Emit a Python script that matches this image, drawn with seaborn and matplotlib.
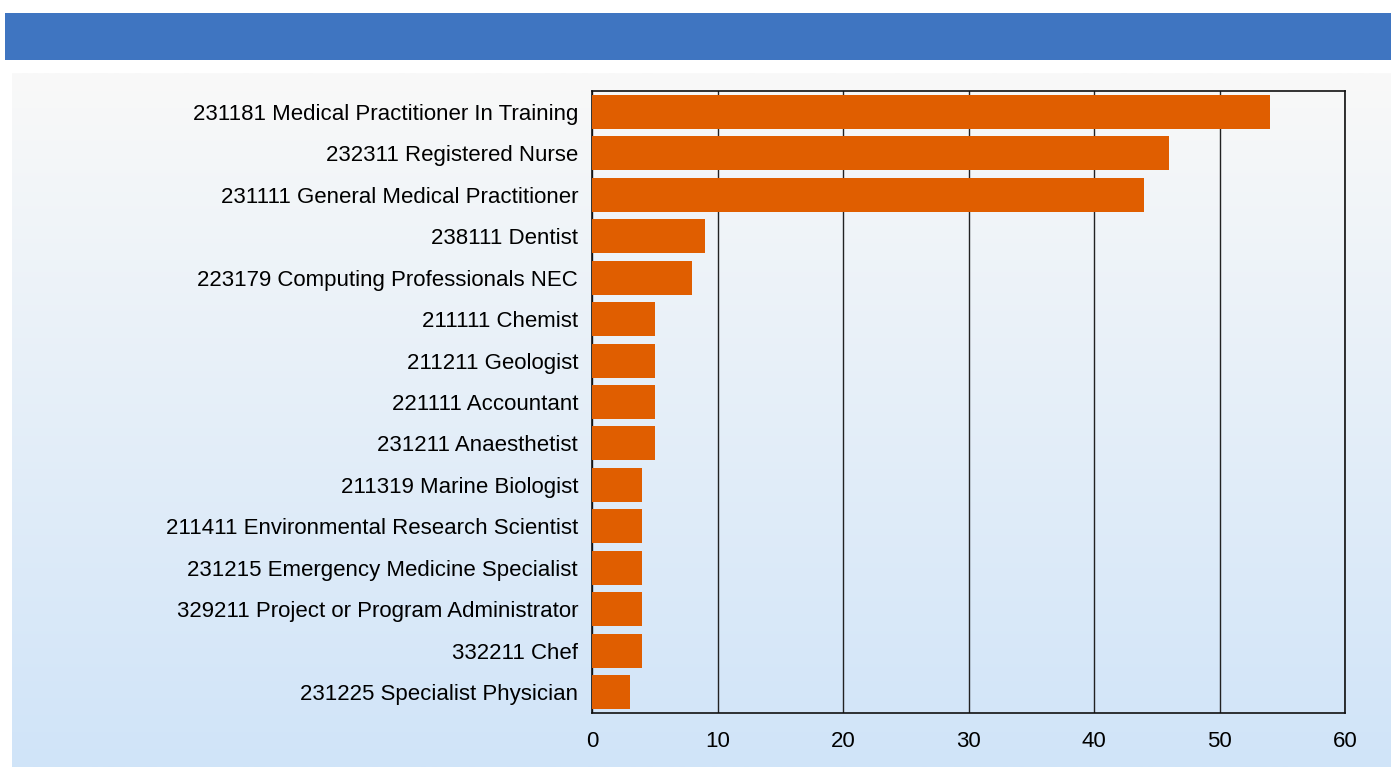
import numpy as np
import pandas as pd
import seaborn as sns
import matplotlib.pyplot as plt

occupations = [
    "231181 Medical Practitioner In Training",
    "232311 Registered Nurse",
    "231111 General Medical Practitioner",
    "238111 Dentist",
    "223179 Computing Professionals NEC",
    "211111 Chemist",
    "211211 Geologist",
    "221111 Accountant",
    "231211 Anaesthetist",
    "211319 Marine Biologist",
    "211411 Environmental Research Scientist",
    "231215 Emergency Medicine Specialist",
    "329211 Project or Program Administrator",
    "332211 Chef",
    "231225 Specialist Physician",
]
counts = [54, 46, 44, 9, 8, 5, 5, 5, 5, 4, 4, 4, 4, 4, 3]
x_ticks = [0, 10, 20, 30, 40, 50, 60]

df = pd.DataFrame({"occupation": occupations, "count": counts})

sns.set_style("white")
plt.rcParams['font.family'] = ['Liberation Sans', 'DejaVu Sans']

W, H = 1391, 767
fig = plt.figure(figsize=(W / 100, H / 100), dpi=100)

# blue header band
band = fig.add_axes([5 / W, 1 - 60 / H, 1 - 5 / W, 47 / H])
band.set_facecolor('#3F75C1')
band.set_xticks([])
band.set_yticks([])
for s in band.spines.values():
    s.set_visible(False)

# gradient panel behind the chart
bg = fig.add_axes([12 / W, 0, 1 - 12 / W, 1 - 73 / H], zorder=-1)
top = np.array([0xF9, 0xF9, 0xF9]) / 255
bot = np.array([0xD0, 0xE4, 0xF8]) / 255
t = np.linspace(0, 1, 256)[:, None, None]
grad = top + (bot - top) * t
bg.imshow(grad, aspect='auto', extent=[0, 1, 1, 0])
bg.axis('off')

ax = fig.add_axes([592 / W, 1 - 713 / H, (1345 - 592) / W, (713 - 91) / H])
ax.patch.set_alpha(0)
sns.barplot(data=df, x="count", y="occupation", color='#E05E00',
            saturation=1, width=0.82, linewidth=0, ax=ax, zorder=3)

ax.set_xlim(0, 60)
ax.set_xticks(x_ticks)
ax.set_xlabel("")
ax.set_ylabel("")
ax.grid(axis='x', color='#222222', linewidth=1, zorder=0)
ax.set_axisbelow(True)
for s in ax.spines.values():
    s.set_visible(True)
    s.set_color('#111111')
    s.set_linewidth(1.2)
ax.tick_params(axis='both', length=0, labelsize=16, colors='#000000')
ax.tick_params(axis='y', pad=10)
ax.tick_params(axis='x', pad=13)

fig.savefig("out.png", dpi=100)
